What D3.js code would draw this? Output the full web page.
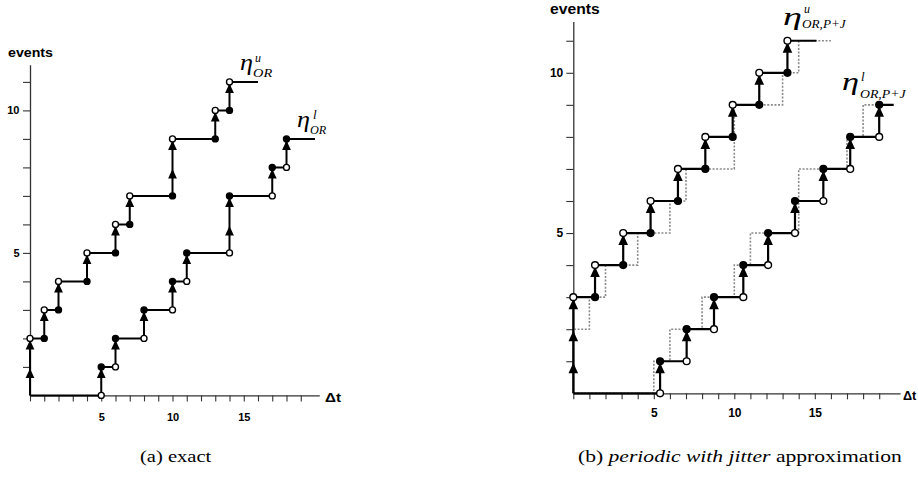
<!DOCTYPE html>
<html><head><meta charset="utf-8">
<script src="https://cdn.jsdelivr.net/npm/d3@7"></script>
<style>body{margin:0;background:#fff;} svg{display:block}</style>
</head><body>
<svg id="c" width="918" height="487"></svg>
<script>
// ---------------- DATA ----------------
// exact upper / lower bounds (panel a, and dotted reference in panel b)
const exactUpperRiseX = [0, 1, 2, 4, 6, 7, 10, 13, 14];
const exactUpperLevel = [2, 3, 4, 5, 6, 7, 9, 10, 11];
const exactUpperEnd = 16;
const exactLowerRiseX = [5, 6, 8, 10, 11, 14, 17, 18];
const exactLowerLevel = [1, 2, 3, 4, 5, 7, 8, 9];
const exactLowerEnd = 20;
// periodic with jitter approximation (panel b)
const pjUpperRiseX = [0, 1.35, 3.1, 4.8, 6.5, 8.2, 9.9, 11.55, 13.3];
const pjUpperLevel = [3, 4, 5, 6, 7, 8, 9, 10, 11];
const pjUpperEnd = 15.1;
const pjUpperDotEnd = 16;
const pjLowerRiseX = [5.39, 7.04, 8.74, 10.56, 12.1, 13.77, 15.53, 17.2, 19.0];
const pjLowerLevel = [1, 2, 3, 4, 5, 6, 7, 8, 9];
const pjLowerEnd = 19.9;
// ticks
const xTickValues = d3.range(0, 20);
const yTickValues = d3.range(1, 12);
const xTickLabels = [5, 10, 15];
const yTickLabels = [5, 10];
const captionA = "(a) exact";
const captionB = ["(b) ", "periodic with jitter", " approximation"];

// ---------------- DRAWING ----------------
const svg = d3.select('#c');
const AX = '#333';
const SANS = "'Liberation Sans', Arial, sans-serif";
const SERIF = "'Liberation Serif', 'Times New Roman', serif";

function fitText(t, x0, w) {
  const bb = t.node().getBBox();
  const s = w / bb.width;
  const y = +t.attr('y');
  t.attr('x', 0).attr('y', 0).attr('transform', `translate(${x0},${y}) scale(${s},1)`);
}

function label(g, txt, x0, yb, w, size, weight, family, style) {
  const t = g.append('text').attr('x', 0).attr('y', yb)
    .style('font-family', family).attr('font-size', size)
    .attr('font-weight', weight || 'normal').attr('font-style', style || 'normal')
    .attr('fill', '#000').text(txt);
  if (w) fitText(t, x0, w); else t.attr('x', x0);
  return t;
}

function drawPanel(p) {
  const g = svg.append('g');
  const x = d3.scaleLinear().domain([0, p.xMax]).range([p.x0, p.x0 + p.xMax * p.ux]);
  const y = d3.scaleLinear().domain([0, p.yMax]).range([p.y0, p.y0 - p.yMax * p.uy]);

  const xa = g.append('g').attr('transform', `translate(0,${p.y0})`)
    .call(d3.axisBottom(x).tickValues(xTickValues).tickSize(p.xTick).tickSizeOuter(0)
      .tickPadding(p.xPad).tickFormat(d => xTickLabels.includes(d) ? d : ''));
  const ya = g.append('g').attr('transform', `translate(${p.x0},0)`)
    .call(d3.axisLeft(y).tickValues(yTickValues).tickSize(p.yTick).tickSizeOuter(0)
      .tickPadding(p.yPad).tickFormat(d => yTickLabels.includes(d) ? d : ''));
  [xa, ya].forEach(a => {
    a.attr('font-family', null);
    a.select('.domain').attr('stroke', AX).attr('stroke-width', 1.3);
    a.selectAll('.tick line').attr('stroke', AX).attr('stroke-width', 1.1);
    a.selectAll('.tick text').style('font-family', SANS)
      .attr('font-weight', 'bold').attr('font-size', p.tickFont).attr('fill', '#000');
  });

  const line = d3.line().x(d => x(d[0])).y(d => y(d[1])).curve(d3.curveStepAfter);
  const pts = (rx, lv, end) => [[0, 0]].concat(rx.map((v, i) => [v, lv[i]])).concat([[end, lv[lv.length - 1]]]);

  // dotted reference
  (p.dotted || []).forEach(s => {
    g.append('path').attr('d', line(pts(s.rx, s.lv, s.end))).attr('fill', 'none')
      .attr('stroke', '#8a8a8a').attr('stroke-width', 1.6).attr('stroke-dasharray', '2,1.6');
  });

  p.series.forEach(s => {
    g.append('path').attr('d', line(pts(s.rx, s.lv, s.end))).attr('fill', 'none')
      .attr('stroke', '#000').attr('stroke-width', p.lw).attr('stroke-linejoin', 'miter');
    // arrowheads
    const tri = [];
    s.rx.forEach((xv, i) => {
      const prev = i === 0 ? 0 : s.lv[i - 1];
      for (let k = prev + 1; k <= s.lv[i]; k++) tri.push([xv, k]);
    });
    g.selectAll(null).data(tri).enter().append('path')
      .attr('d', d => {
        const cx = x(d[0]), ty = y(d[1]) + p.triOff;
        return `M${cx},${ty}L${cx + p.triW},${ty + p.triH}L${cx - p.triW},${ty + p.triH}Z`;
      }).attr('fill', '#000');
    // circles
    const circ = [];
    s.rx.forEach((xv, i) => {
      const prev = i === 0 ? 0 : s.lv[i - 1];
      if (s.kind === 'upper') {
        circ.push({ x: xv, y: s.lv[i], open: true });
        if (i > 0) circ.push({ x: xv, y: prev, open: false });
      } else {
        circ.push({ x: xv, y: prev, open: true });
        circ.push({ x: xv, y: s.lv[i], open: false });
      }
    });
    g.selectAll(null).data(circ).enter().append('circle')
      .attr('cx', d => x(d.x)).attr('cy', d => y(d.y)).attr('r', p.r)
      .attr('fill', d => d.open ? '#fff' : '#000').attr('stroke', '#000').attr('stroke-width', 1.4);
  });

  // axis titles
  label(g, 'events', p.evX, p.evY, p.evW, p.evSize, 'bold', SANS);
  label(g, 'Δt', p.dtX, p.dtY, p.dtW, p.dtSize, 'bold', SANS);

  // eta labels
  p.etas.forEach(e => {
    label(g, 'η', e.x, e.y, e.w, e.size, 'normal', SERIF, 'italic');
    label(g, e.sup, e.supX, e.supY, null, e.supSize, 'normal', SERIF, 'italic');
    label(g, e.sub, e.subX, e.subY, e.subW, e.subSize, 'normal', SERIF, 'italic');
  });
  return g;
}

drawPanel({
  x0: 30, ux: 14.25, y0: 395.4, uy: 28.5, xMax: 20.3, yMax: 11.6,
  xTick: 6, yTick: 7, xPad: 12, yPad: 3.5, tickFont: 11, lw: 2,
  triOff: 1.5, triH: 9.5, triW: 4.4, r: 3,
  evX: 8, evY: 57, evW: 45, evSize: 13,
  dtX: 325, dtY: 402, dtW: 16, dtSize: 12,
  series: [
    { rx: exactUpperRiseX, lv: exactUpperLevel, end: exactUpperEnd, kind: 'upper' },
    { rx: exactLowerRiseX, lv: exactLowerLevel, end: exactLowerEnd, kind: 'lower' }
  ],
  etas: [
    { x: 240, y: 70, w: 13, size: 23, sup: 'u', supX: 255, supY: 62, supSize: 12, sub: 'OR', subX: 253, subY: 77, subW: 20, subSize: 12 },
    { x: 297, y: 127, w: 13, size: 23, sup: 'l', supX: 313, supY: 119, supSize: 13, sub: 'OR', subX: 310, subY: 134, subW: 17, subSize: 12 }
  ]
});

drawPanel({
  x0: 573.3, ux: 16.1, y0: 393.3, uy: 32.05, xMax: 20.3, yMax: 11.6,
  xTick: 6, yTick: 7, xPad: 9, yPad: 3, tickFont: 12, lw: 2.2,
  triOff: 1.5, triH: 10.5, triW: 4.8, r: 3.4,
  evX: 550, evY: 14, evW: 50, evSize: 14,
  dtX: 903, dtY: 400, dtW: 14, dtSize: 13,
  dotted: [
    { rx: exactUpperRiseX, lv: exactUpperLevel, end: pjUpperDotEnd },
    { rx: exactLowerRiseX, lv: exactLowerLevel, end: 19 }
  ],
  series: [
    { rx: pjUpperRiseX, lv: pjUpperLevel, end: pjUpperEnd, kind: 'upper' },
    { rx: pjLowerRiseX, lv: pjLowerLevel, end: pjLowerEnd, kind: 'lower' }
  ],
  etas: [
    { x: 783, y: 25, w: 19, size: 26, sup: 'u', supX: 804, supY: 13, supSize: 12, sub: 'OR,P+J', subX: 802, subY: 28, subW: 45, subSize: 13 },
    { x: 842, y: 90, w: 17, size: 26, sup: 'l', supX: 861, supY: 81, supSize: 13, sub: 'OR,P+J', subX: 860, subY: 98, subW: 47, subSize: 13 }
  ]
});

// captions
const cap = svg.append('g');
const ta = cap.append('text').attr('x', 0).attr('y', 462).style('font-family', SERIF)
  .attr('font-size', 16).text(captionA);
fitText(ta, 140, 72);
const tb = cap.append('text').attr('x', 0).attr('y', 462).style('font-family', SERIF).attr('font-size', 16);
captionB.forEach((s, i) => tb.append('tspan').attr('font-style', i === 1 ? 'italic' : 'normal').text(s));
fitText(tb, 578, 324);
</script>
</body></html>
